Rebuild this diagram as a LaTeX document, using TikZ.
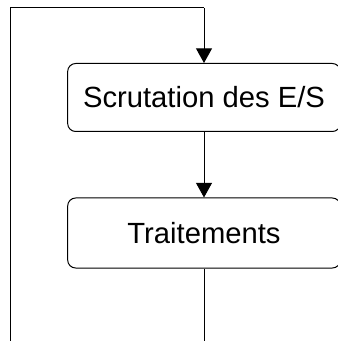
\documentclass[tikz,border=0pt]{standalone}
\usepackage{fontspec}
\setmainfont{Liberation Sans}
\usetikzlibrary{arrows.meta}

\begin{document}
\begin{tikzpicture}[
  x=0.75pt, y=-0.75pt,
  box/.style={draw, rounded corners=6pt, line width=0.75pt,
              minimum width=204.5pt, minimum height=51pt,
              inner sep=0pt, font=\fontsize{21.9}{26}\selectfont, align=center},
  arr/.style={draw, line width=0.75pt, -{Triangle[width=12pt,length=11pt]}},
  lin/.style={draw, line width=0.75pt},
]
\useasboundingbox (0,0) rectangle (337,341);
% --- Steps ---
\node[box] (scrut) at (204, 97.5) {Scrutation des E/S};
\node[box, minimum height=52.5pt] (trait) at (204, 233) {Traitements};
% --- Loop back corners ---
\coordinate (bl) at (10, 341);
\coordinate (tl) at (10, 8);
\coordinate (tr) at (204, 8);
\coordinate (br) at (204, 341);
% --- Connectors ---
\draw[lin] (bl) -- (tl) -- (tr);
\draw[arr] (tr) -- (scrut);
\draw[arr] (scrut) -- (trait);
\draw[lin] (trait) -- (br);
\end{tikzpicture}
\end{document}
